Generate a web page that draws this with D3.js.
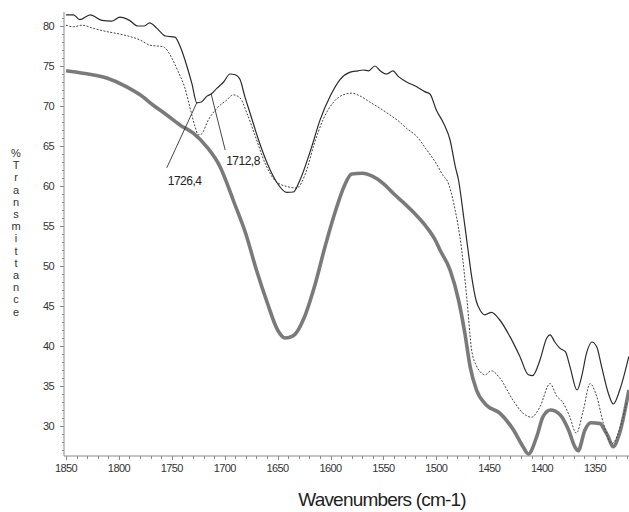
<!DOCTYPE html>
<html><head><meta charset="utf-8">
<script src="https://cdn.jsdelivr.net/npm/d3@7"></script>
<style>body{margin:0;background:#fff}svg{display:block}</style>
</head><body>
<svg id="c" width="629" height="512"></svg>
<script>
// Series 1: solid thin line
const solidWn  = [1850,1843,1837,1827,1816,1807,1799,1790,1782,1776,1771,1764,1756,1747,1742,1736,1731,1726.4,1722,1717,1712.8,1707.5,1701,1695,1690,1685.5,1681,1676,1668,1660,1651,1641.5,1635,1629,1618,1610,1600,1591,1582,1574,1569,1564,1558,1553,1547,1541,1536,1528,1518.5,1511,1506,1500,1493,1487,1482,1479,1474,1470,1466.6,1462.5,1458.7,1454,1448,1440,1430.5,1421,1413,1409,1402,1395.6,1392.5,1388,1383,1378,1373.6,1367,1362.6,1358,1353,1348.4,1343.7,1337.4,1332.7,1326.6,1318];
const solidVal = [81.4,81.4,80.8,81.4,80.7,80.6,81.1,80.7,80.0,80.0,80.4,79.7,78.75,78.6,77.4,75.1,72.8,70.4,70.5,71.2,71.5,72.2,73.0,74.0,73.9,73.3,71.2,69.1,65.75,62.9,60.5,59.2,59.25,60.7,64.8,68.2,71.3,73.3,74.2,74.4,74.5,74.4,75.0,74.4,74.0,74.4,73.7,73.0,72.4,71.8,71.5,69.5,67.8,65.75,62.4,60.75,56,52,48.7,45.75,44.5,43.9,44.2,43.25,41.2,38.7,36.4,36.3,38.25,41.0,41.4,40.5,39.7,39.3,37.4,34.5,36.2,39.1,40.5,39.9,37.4,34.1,32.75,34.5,38.7];
// Series 2: dotted line
const dotWn  = [1850,1843,1835,1824,1811.5,1796,1780,1770.6,1758,1750,1744,1737.5,1733,1728,1725,1722,1715.5,1707.5,1698,1692,1685.5,1679,1671,1662,1651,1640,1632,1622.5,1616,1607,1597,1588,1580,1572,1563,1553,1544,1537,1528,1518.5,1509,1500,1493,1490,1483,1476,1471,1466.6,1462,1458.7,1454,1448,1440,1427.6,1418,1410,1402,1392.5,1386,1380.6,1374,1367.7,1361,1354.7,1348.4,1342,1334,1325,1320];
const dotVal = [80.1,79.9,80.1,79.7,79.3,78.9,78.25,77.6,77.4,76.0,74.3,72.2,69.9,67.4,66.4,66.5,68.25,69.7,70.75,71.4,71.0,69.1,66.2,62.9,60.5,59.9,59.75,62.0,65.0,68.3,70.5,71.4,71.6,71.25,70.5,69.7,68.9,68.25,67.2,66.2,64.5,62.8,61.2,60.75,57.5,52.0,45.75,39.5,37.5,36.8,36.4,36.9,36.0,33.25,31.6,31.1,32.4,35.3,33.7,33.0,31.2,29.1,32.0,35.3,33.7,30.3,27.8,30.4,33.0];
// Series 3: thick grey line
const thickWn  = [1850,1834,1811.5,1792.6,1780,1767.5,1755,1742,1729.7,1717,1704.4,1696.6,1692,1680,1670,1660,1650,1643,1635,1625,1615,1605,1595,1587,1580,1570,1560,1550,1540,1530,1520,1510,1500,1496.5,1487,1479,1473,1468,1462,1452.5,1440,1427,1418,1413,1405,1399,1392,1383,1375,1369,1366,1359.5,1354,1345,1341,1338,1333,1327,1318];
const thickVal = [74.4,74.1,73.5,72.4,71.4,70.1,68.9,67.6,66.6,64.9,62.4,59.9,58.25,54,49.5,45.5,42,41,41.3,43.5,47.5,52.5,57,60,61.5,61.6,61.2,60.3,59.0,57.8,56.5,55.0,53,52.0,49.5,45.75,41.6,37.4,34.5,32.6,31.6,29.5,27.4,26.5,28.7,31.2,32.0,31.4,29.5,27.4,26.9,29.5,30.4,30.3,29.5,28.8,27.4,29.0,34.5];
// Axis ticks
const xTicks = [1850,1800,1750,1700,1650,1600,1550,1500,1450,1400,1350];
const yTicks = [30,35,40,45,50,55,60,65,70,75,80];
// Annotations
const annotWn    = [1726.4, 1712.8];
const annotVal   = [70.4, 71.5];
const annotLabel = ["1726,4", "1712,8"];

const svg = d3.select("#c");
const x = d3.scaleLinear().domain([1850, 1350]).range([66, 595]);
const y = d3.scaleLinear().domain([80, 30]).range([26, 426]);
const x0 = 64, x1 = 629, yBot = y(26.25), yTop = y(81.75);
const axisCol = "#8a8a8a", textCol = "#333";

// Y axis
const ga = svg.append("g");
ga.append("line").attr("x1", x0).attr("x2", x0).attr("y1", yTop).attr("y2", yBot).attr("stroke", axisCol);
d3.range(27, 82).forEach(v => {
  const major = v % 5 === 0;
  ga.append("line").attr("x1", x0 - (major ? 4 : 2)).attr("x2", x0).attr("y1", Math.round(y(v)) + 0.5).attr("y2", Math.round(y(v)) + 0.5).attr("stroke", axisCol);
});
yTicks.forEach(v => {
  ga.append("text").attr("x", 54).attr("y", y(v) + 4).attr("text-anchor", "end")
    .attr("font-family", "Liberation Sans, Arial, sans-serif").attr("font-size", 11).attr("letter-spacing", -0.6).attr("fill", textCol).text(v);
});
// X axis
ga.append("line").attr("x1", x0).attr("x2", x1).attr("y1", yBot).attr("y2", yBot).attr("stroke", axisCol);
d3.range(1850, 1315, -10).forEach(v => {
  const major = v % 50 === 0;
  ga.append("line").attr("x1", Math.round(x(v)) + 0.5).attr("x2", Math.round(x(v)) + 0.5).attr("y1", yBot).attr("y2", yBot + (major ? 4 : 3)).attr("stroke", axisCol);
});
xTicks.forEach(v => {
  ga.append("text").attr("x", x(v)).attr("y", yBot + 16).attr("text-anchor", "middle")
    .attr("font-family", "Liberation Sans, Arial, sans-serif").attr("font-size", 11).attr("letter-spacing", -0.6).attr("fill", textCol).text(v);
});
// Axis titles
svg.append("text").attr("x", 382).attr("y", 506).attr("text-anchor", "middle")
  .attr("font-family", "Liberation Sans, Arial, sans-serif").attr("font-size", 19).attr("letter-spacing", -0.8).attr("fill", "#222").text("Wavenumbers (cm-1)");
const yt = svg.append("text").attr("font-family", "Liberation Sans, Arial, sans-serif").attr("font-size", 11).attr("fill", textCol).attr("text-anchor", "middle");
"%Transmittance".split("").forEach((ch, i) => {
  yt.append("tspan").attr("x", 16).attr("y", 157 + i * 12.2).text(ch);
});

// Lines
const line = d3.line().x(d => x(d[0])).y(d => y(d[1])).curve(d3.curveMonotoneX);
svg.append("path").datum(d3.zip(thickWn, thickVal)).attr("d", line).attr("fill", "none").attr("stroke", "#7a7a7a").attr("stroke-width", 3.6).attr("stroke-linejoin", "round");
svg.append("path").datum(d3.zip(dotWn, dotVal)).attr("d", line).attr("fill", "none").attr("stroke", "#444").attr("stroke-width", 1).attr("stroke-dasharray", "2,1.5");
svg.append("path").datum(d3.zip(solidWn, solidVal)).attr("d", line).attr("fill", "none").attr("stroke", "#2b2b2b").attr("stroke-width", 1.2);

// Annotations (leader end offsets and label offsets in pixels from the annotated point)
const offs = [[-30, 65, 17], [14, 56, 15]];
annotWn.forEach((w, i) => {
  const px = x(w), py = y(annotVal[i]);
  svg.append("line").attr("x1", px).attr("y1", py).attr("x2", px + offs[i][0]).attr("y2", py + offs[i][1]).attr("stroke", "#333").attr("stroke-width", 0.9);
  svg.append("text").attr("x", px + offs[i][0] + 1).attr("y", py + offs[i][1] + offs[i][2])
    .attr("font-family", "Liberation Sans, Arial, sans-serif").attr("font-size", 12).attr("letter-spacing", -0.5).attr("fill", "#222").text(annotLabel[i]);
});
</script>
</body></html>
